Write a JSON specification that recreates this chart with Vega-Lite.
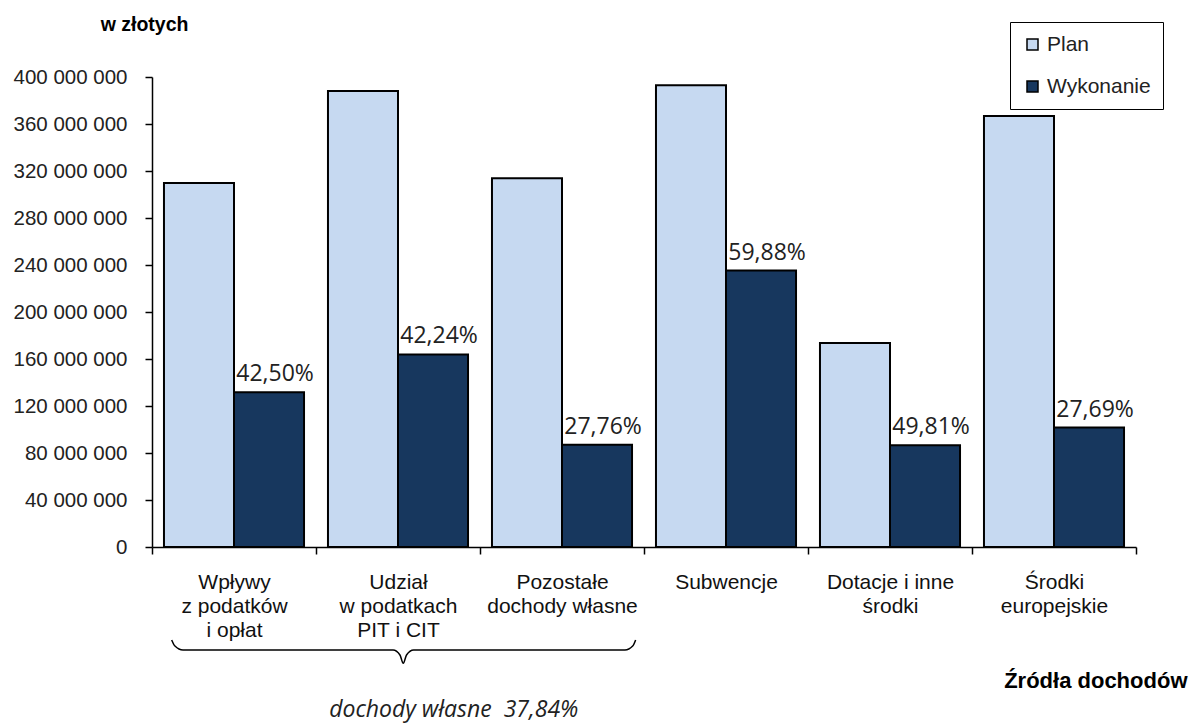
{
  "$schema": "https://vega.github.io/schema/vega-lite/v6.json",
  "width": 984,
  "height": 470,
  "autosize": {"type": "none"},
  "padding": {"left": 152, "top": 77, "right": 55, "bottom": 180},
  "background": "white",
  "config": {"view": {"stroke": null}, "font": "Liberation Sans"},
  "datasets": {
    "bars": [
      {"category": "Wpływy|z podatków|i opłat", "series": "Plan", "value": 309800000, "pct": ""},
      {"category": "Wpływy|z podatków|i opłat", "series": "Wykonanie", "value": 131700000, "pct": "42,50%"},
      {"category": "Udział|w podatkach|PIT i CIT", "series": "Plan", "value": 388100000, "pct": ""},
      {"category": "Udział|w podatkach|PIT i CIT", "series": "Wykonanie", "value": 163900000, "pct": "42,24%"},
      {"category": "Pozostałe|dochody własne", "series": "Plan", "value": 313800000, "pct": ""},
      {"category": "Pozostałe|dochody własne", "series": "Wykonanie", "value": 87100000, "pct": "27,76%"},
      {"category": "Subwencje", "series": "Plan", "value": 392900000, "pct": ""},
      {"category": "Subwencje", "series": "Wykonanie", "value": 235300000, "pct": "59,88%"},
      {"category": "Dotacje i inne|środki", "series": "Plan", "value": 173600000, "pct": ""},
      {"category": "Dotacje i inne|środki", "series": "Wykonanie", "value": 86500000, "pct": "49,81%"},
      {"category": "Środki|europejskie", "series": "Plan", "value": 366800000, "pct": ""},
      {"category": "Środki|europejskie", "series": "Wykonanie", "value": 101600000, "pct": "27,69%"}
    ],
    "brace": [
      {"i": 1, "bx": 0.120, "by": -79100000},
      {"i": 2, "bx": 0.140, "by": -84300000},
      {"i": 3, "bx": 0.189, "by": -87700000},
      {"i": 4, "bx": 1.470, "by": -87700000},
      {"i": 5, "bx": 1.512, "by": -91900000},
      {"i": 6, "bx": 1.532, "by": -99000000},
      {"i": 7, "bx": 1.552, "by": -91900000},
      {"i": 8, "bx": 1.595, "by": -87700000},
      {"i": 9, "bx": 2.884, "by": -87700000},
      {"i": 10, "bx": 2.931, "by": -84300000},
      {"i": 11, "bx": 2.949, "by": -79100000}
    ],
    "notes": [
      {"label": "dochody własne\u00a0 37,84%"}
    ]
  },
  "layer": [
    {
      "data": {"name": "bars"},
      "encoding": {
        "x": {
          "field": "category",
          "type": "nominal",
          "sort": ["Wpływy|z podatków|i opłat", "Udział|w podatkach|PIT i CIT", "Pozostałe|dochody własne", "Subwencje", "Dotacje i inne|środki", "Środki|europejskie"],
          "scale": {"paddingInner": 0, "paddingOuter": 0},
          "title": "Źródła dochodów",
          "axis": {
            "labelExpr": "split(datum.label, '|')",
            "labelAngle": 0,
            "labelFontSize": 21,
            "labelColor": "#111",
            "labelLineHeight": 24,
            "labelBaseline": "top",
            "labelPadding": 17,
            "labelLimit": 200,
            "tickBand": "extent",
            "tickSize": 7,
            "tickColor": "black",
            "tickWidth": 1.5,
            "domainColor": "black",
            "domainWidth": 1.5,
            "grid": false,
            "titleFontSize": 22,
            "titleFontWeight": "bold",
            "titleColor": "black",
            "titleX": 1035,
            "titleY": 140,
            "titleAlign": "right",
            "titleBaseline": "alphabetic"
          }
        },
        "xOffset": {
          "field": "series",
          "type": "nominal",
          "scale": {"domain": ["Plan", "Wykonanie"], "paddingInner": 0, "paddingOuter": 0.171}
        },
        "y": {
          "field": "value",
          "type": "quantitative",
          "scale": {"domain": [0, 400000000], "nice": false},
          "title": "w złotych",
          "axis": {
            "values": [0, 40000000, 80000000, 120000000, 160000000, 200000000, 240000000, 280000000, 320000000, 360000000, 400000000],
            "labelExpr": "replace(format(datum.value, ','), regexp(',', 'g'), ' ')",
            "labelFontSize": 20.5,
            "labelColor": "#222",
            "labelPadding": 18,
            "tickSize": 7,
            "tickColor": "black",
            "tickWidth": 1.5,
            "domainColor": "black",
            "domainWidth": 1.5,
            "grid": false,
            "titleAngle": 0,
            "titleX": -8,
            "titleY": -47,
            "titleAlign": "center",
            "titleBaseline": "alphabetic",
            "titleFontSize": 19.5,
            "titleFontWeight": "bold",
            "titleColor": "black"
          }
        }
      },
      "layer": [
        {
          "mark": {"type": "bar", "stroke": "black", "strokeWidth": 2},
          "encoding": {
            "color": {
              "field": "series",
              "type": "nominal",
              "scale": {"domain": ["Plan", "Wykonanie"], "range": ["#C6D9F1", "#17375E"]},
              "legend": {
                "title": null,
                "orient": "none",
                "legendX": 858,
                "legendY": -55,
                "symbolType": "square",
                "symbolSize": 121,
                "symbolStrokeColor": "black",
                "symbolStrokeWidth": 1.5,
                "symbolOpacity": 1,
                "labelFontSize": 21,
                "labelColor": "#222",
                "labelOffset": 4,
                "strokeColor": "black",
                "fillColor": "white",
                "padding": 12,
                "rowPadding": 20
              }
            }
          }
        },
        {
          "transform": [{"filter": "datum.series === 'Wykonanie'"}],
          "mark": {"type": "text", "font": "Open Sans", "fontSize": 23, "fill": "#222", "baseline": "alphabetic", "align": "center", "dy": -11, "dx": 6},
          "encoding": {"text": {"field": "pct"}}
        }
      ]
    },
    {
      "data": {"name": "brace"},
      "mark": {"type": "line", "color": "black", "strokeWidth": 1.5, "interpolate": "monotone"},
      "encoding": {
        "x": {"field": "bx", "type": "quantitative", "scale": {"domain": [0, 6], "nice": false, "zero": false}, "axis": null},
        "y": {"field": "by", "type": "quantitative", "scale": {"domain": [0, 400000000], "nice": false}, "axis": null},
        "order": {"field": "i"}
      }
    },
    {
      "data": {"name": "notes"},
      "mark": {"type": "text", "font": "Open Sans", "fontStyle": "italic", "fontSize": 23, "fill": "#222", "align": "center", "baseline": "alphabetic"},
      "encoding": {
        "x": {"datum": 1.84, "type": "quantitative", "scale": {"domain": [0, 6], "nice": false, "zero": false}, "axis": null},
        "y": {"datum": -145000000, "type": "quantitative", "scale": {"domain": [0, 400000000], "nice": false}, "axis": null},
        "text": {"field": "label"}
      }
    }
  ],
  "resolve": {"scale": {"x": "independent", "y": "independent"}}
}
